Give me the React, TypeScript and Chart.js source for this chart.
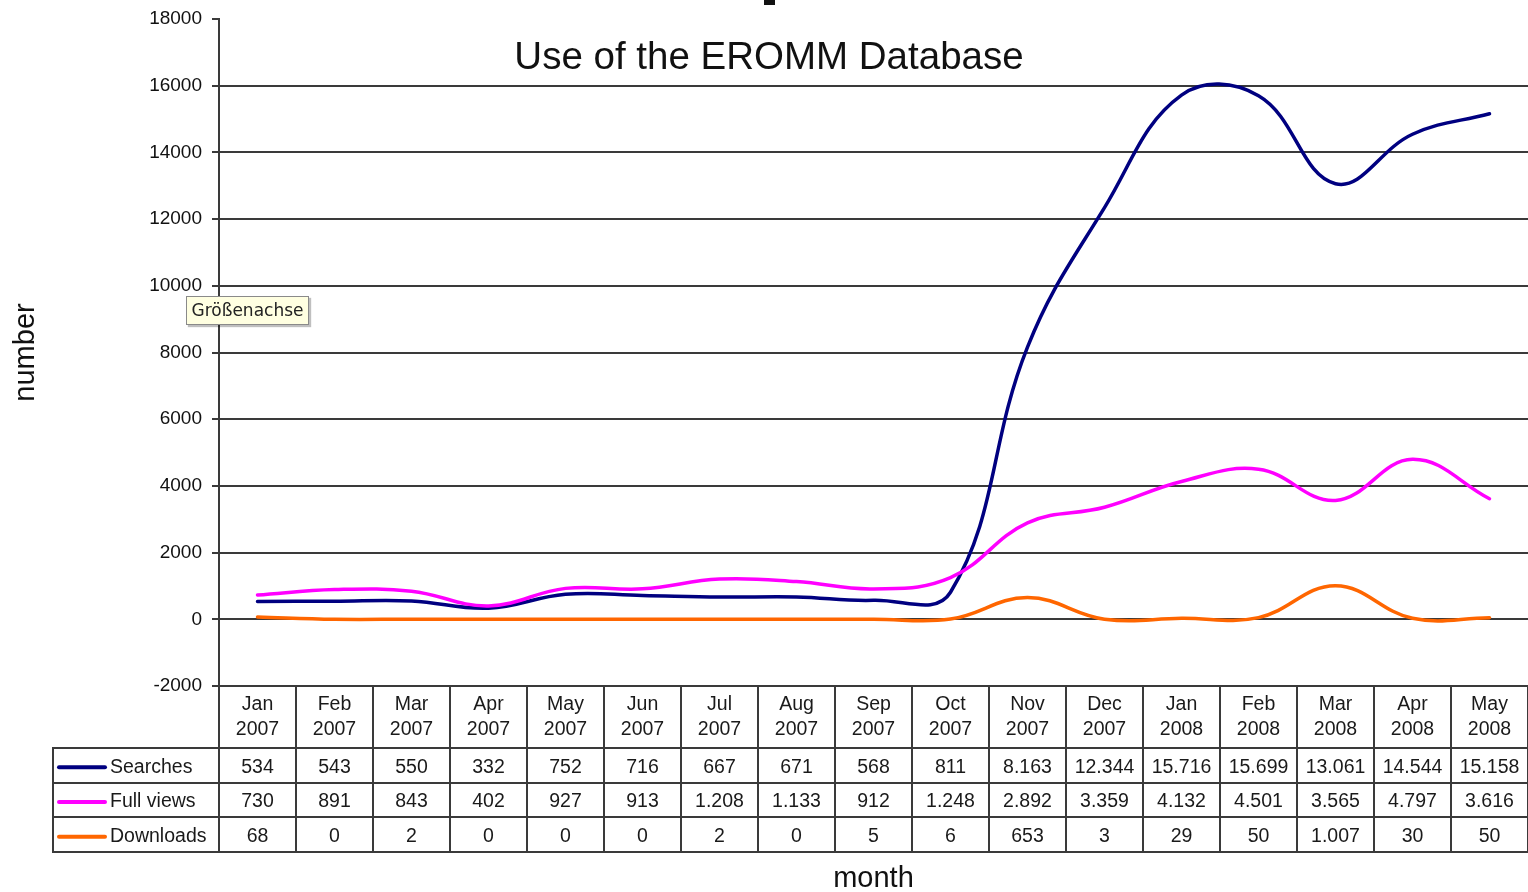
import React, { useEffect, useRef } from "react";
import { Chart, registerables } from "chart.js";

Chart.register(...registerables);

const months = ["Jan", "Feb", "Mar", "Apr", "May", "Jun", "Jul", "Aug", "Sep", "Oct", "Nov", "Dec", "Jan", "Feb", "Mar", "Apr", "May"];
const years = ["2007", "2007", "2007", "2007", "2007", "2007", "2007", "2007", "2007", "2007", "2007", "2007", "2008", "2008", "2008", "2008", "2008"];
const searches = [534, 543, 550, 332, 752, 716, 667, 671, 568, 811, 8163, 12344, 15716, 15699, 13061, 14544, 15158];
const fullViews = [730, 891, 843, 402, 927, 913, 1208, 1133, 912, 1248, 2892, 3359, 4132, 4501, 3565, 4797, 3616];
const downloads = [68, 0, 2, 0, 0, 0, 2, 0, 5, 6, 653, 3, 29, 50, 1007, 30, 50];
const seriesNames = ["Searches", "Full views", "Downloads"];
const seriesColors = ["#000080", "#FF00FF", "#FF6600"];
const yMin = -2000;
const yMax = 18000;
const yStep = 2000;
const chartTitle = "Use of the EROMM Database";
const xTitle = "month";
const yTitle = "number";
const tooltipText = "Größenachse";

const FONT = "'Liberation Sans', Arial, sans-serif";
const GRID = "#3a3a3a";

function fmt(n: number): string {
  if (n >= 1000) {
    return Math.floor(n / 1000) + "." + String(n % 1000).padStart(3, "0");
  }
  return String(n);
}

const tablePlugin = {
  id: "dataTable",
  afterDraw(chart: any) {
    const { ctx, chartArea, scales } = chart;
    const x = scales.x;
    const n = months.length;
    const colW = x.getPixelForValue(1) - x.getPixelForValue(0);
    const top = chartArea.bottom;
    const headerBottom = top + 62;
    const rowH = 34.7;
    const tableBottom = headerBottom + 3 * rowH;
    const legendLeft = 53;
    const rows = [searches, fullViews, downloads];

    ctx.save();
    ctx.strokeStyle = GRID;
    ctx.lineWidth = 2;
    ctx.beginPath();
    ctx.moveTo(chartArea.left, top);
    ctx.lineTo(chartArea.right, top);
    for (let k = 0; k <= 3; k++) {
      const yy = Math.round(headerBottom + k * rowH);
      ctx.moveTo(legendLeft, yy);
      ctx.lineTo(chartArea.right, yy);
    }
    ctx.moveTo(legendLeft, headerBottom - 1);
    ctx.lineTo(legendLeft, tableBottom + 1);
    for (let i = 0; i <= n; i++) {
      const bx = i < n ? x.getPixelForValue(i) - colW / 2 : x.getPixelForValue(n - 1) + colW / 2;
      ctx.moveTo(Math.round(bx), top);
      ctx.lineTo(Math.round(bx), tableBottom + 1);
    }
    ctx.stroke();

    ctx.fillStyle = "#1a1a1a";
    ctx.font = `19.5px ${FONT}`;
    ctx.textAlign = "center";
    ctx.textBaseline = "middle";
    for (let i = 0; i < n; i++) {
      const cx = x.getPixelForValue(i);
      ctx.fillText(months[i], cx, top + 19);
      ctx.fillText(years[i], cx, top + 44);
      rows.forEach((vals, r) => {
        ctx.fillText(fmt(vals[i]), cx, headerBottom + r * rowH + rowH / 2 + 2);
      });
    }

    rows.forEach((_, r) => {
      const cy = headerBottom + r * rowH + rowH / 2 + 2;
      ctx.strokeStyle = seriesColors[r];
      ctx.lineWidth = 4;
      ctx.lineCap = "round";
      ctx.beginPath();
      ctx.moveTo(59, cy);
      ctx.lineTo(105, cy);
      ctx.stroke();
      ctx.fillStyle = "#1a1a1a";
      ctx.textAlign = "left";
      ctx.fillText(seriesNames[r], 110, cy);
    });

    ctx.fillStyle = "#111";
    ctx.textAlign = "center";
    ctx.textBaseline = "alphabetic";
    ctx.font = `29px ${FONT}`;
    ctx.fillText(xTitle, (chartArea.left + chartArea.right) / 2, 887);

    ctx.font = `38.5px ${FONT}`;
    ctx.fillText(chartTitle, 769, 69);
    ctx.restore();
  },
};

export default function App() {
  const canvasRef = useRef<HTMLCanvasElement>(null);

  useEffect(() => {
    const canvas = canvasRef.current;
    if (!canvas) return;
    const mk = (data: number[], idx: number, order: number) => ({
      label: seriesNames[idx],
      data,
      borderColor: seriesColors[idx],
      backgroundColor: seriesColors[idx],
      borderWidth: 3.5,
      pointRadius: 0,
      tension: 0.4,
      fill: false,
      order,
      borderCapStyle: "round" as const,
      borderJoinStyle: "round" as const,
    });
    const chart = new Chart(canvas, {
      type: "line",
      data: {
        labels: months.map((m, i) => `${m} ${years[i]}`),
        datasets: [mk(searches, 0, 2), mk(fullViews, 1, 1), mk(downloads, 2, 0)],
      },
      options: {
        animation: false,
        responsive: false,
        maintainAspectRatio: false,
        layout: { padding: { top: 19, bottom: 206, left: 0, right: 0 } },
        plugins: {
          legend: { display: false },
          tooltip: { enabled: false },
          title: { display: false },
        },
        scales: {
          x: {
            type: "category",
            display: false,
            offset: true,
          },
          y: {
            min: yMin,
            max: yMax,
            afterFit: (scale: any) => {
              scale.width = 219;
              scale.paddingTop = 0;
              scale.paddingBottom = 0;
            },
            ticks: {
              stepSize: yStep,
              padding: 10,
              color: "#111",
              font: { family: FONT, size: 19 },
              callback: (v: any) => String(v),
            },
            grid: {
              color: (c: any) => (c.tick && c.tick.value === yMax ? "rgba(0,0,0,0)" : GRID),
              tickColor: GRID,
              lineWidth: 2,
              tickLength: 7,
              drawTicks: true,
            },
            border: { display: true, color: GRID, width: 2 },
            title: {
              display: true,
              text: yTitle,
              color: "#111",
              font: { family: FONT, size: 29 },
              padding: { top: 9, bottom: 0 },
            },
          },
        },
      },
      plugins: [tablePlugin],
    });
    return () => chart.destroy();
  }, []);

  return (
    <div style={{ position: "absolute", left: 0, top: 0, width: 1528, height: 892, background: "#fff", overflow: "hidden" }}>
      <canvas ref={canvasRef} width={1528} height={892} style={{ display: "block", width: 1528, height: 892 }} />
      <div style={{ position: "absolute", left: 764, top: 0, width: 11, height: 5, background: "#111" }} />
      <div
        style={{
          position: "absolute",
          left: 186,
          top: 296,
          width: 121,
          height: 27,
          background: "#FFFFE1",
          border: "1px solid #8a8a8a",
          boxShadow: "2px 2px 1px rgba(0,0,0,0.25)",
          fontFamily: "'DejaVu Sans', Tahoma, sans-serif",
          fontSize: 17,
          lineHeight: "27px",
          color: "#222",
          textAlign: "center",
          whiteSpace: "nowrap",
        }}
      >
        {tooltipText}
      </div>
    </div>
  );
}
